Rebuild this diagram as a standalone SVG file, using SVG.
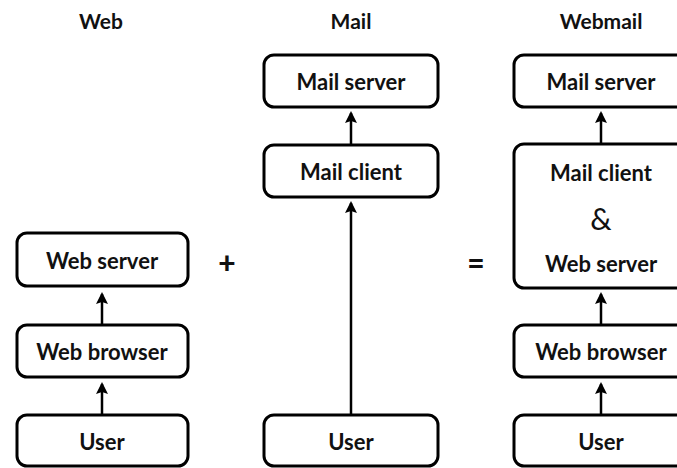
<svg xmlns="http://www.w3.org/2000/svg" width="677" height="468" viewBox="0 0 677 468">
<style>
.box{fill:#fff;stroke:#000;stroke-width:3}
.t{font-family:Lato,"Liberation Sans",sans-serif;font-weight:bold;font-size:22px;text-anchor:middle;dominant-baseline:central;fill:#111}
.h{font-family:Lato,"Liberation Sans",sans-serif;font-weight:bold;font-size:21px;text-anchor:middle;dominant-baseline:central;fill:#111}
.amp{font-family:Lato,"Liberation Sans",sans-serif;font-weight:normal;font-size:30px;text-anchor:middle;dominant-baseline:central;fill:#111}
.op{font-family:Lato,"Liberation Sans",sans-serif;font-weight:900;font-size:30px;text-anchor:middle;dominant-baseline:central;fill:#111}
.c{stroke:#000;stroke-width:2.5;fill:none;marker-end:url(#ah)}
</style>
<defs>
<marker id="ah" markerWidth="12" markerHeight="12" refX="10" refY="6" orient="auto" markerUnits="userSpaceOnUse" viewBox="0 0 12 12">
<path d="M0,0 L12,6 L0,12 L2,6 Z" fill="#000"/>
</marker>
</defs>
<text class="h" x="101" y="20">Web</text>
<text class="h" x="351" y="20">Mail</text>
<text class="h" x="601" y="20">Webmail</text>
<text class="op" x="227" y="262">+</text>
<text class="op" x="476" y="262">=</text>
<g id="connectors">
<line class="c" x1="102" y1="325" x2="102" y2="294"/>
<line class="c" x1="102" y1="415" x2="102" y2="384"/>
<line class="c" x1="351" y1="145" x2="351" y2="113"/>
<line class="c" x1="351" y1="415" x2="351" y2="203"/>
<line class="c" x1="601" y1="145" x2="601" y2="113"/>
<line class="c" x1="601" y1="325" x2="601" y2="294"/>
<line class="c" x1="601" y1="415" x2="601" y2="384"/>
</g>
<g id="web-server"><rect class="box" x="17" y="233" width="171" height="53" rx="10"/><text class="t" x="102" y="260">Web server</text></g>
<g id="web-browser"><rect class="box" x="17" y="325" width="171" height="52" rx="10"/><text class="t" x="102" y="351">Web browser</text></g>
<g id="web-user"><rect class="box" x="17" y="415" width="171" height="51" rx="10"/><text class="t" x="102" y="441">User</text></g>
<g id="mail-server"><rect class="box" x="264" y="55" width="174" height="52" rx="10"/><text class="t" x="351" y="81">Mail server</text></g>
<g id="mail-client"><rect class="box" x="264" y="145" width="174" height="52" rx="10"/><text class="t" x="351" y="171">Mail client</text></g>
<g id="mail-user"><rect class="box" x="264" y="415" width="174" height="51" rx="10"/><text class="t" x="351" y="441">User</text></g>
<g id="wm-server"><rect class="box" x="514" y="55" width="174" height="52" rx="10"/><text class="t" x="601" y="81">Mail server</text></g>
<g id="wm-combined"><rect class="box" x="514" y="144" width="174" height="144" rx="10"/><text class="t" x="601" y="172">Mail client</text><text class="amp" x="601" y="218">&amp;</text><text class="t" x="601" y="263">Web server</text></g>
<g id="wm-browser"><rect class="box" x="514" y="325" width="174" height="52" rx="10"/><text class="t" x="601" y="351">Web browser</text></g>
<g id="wm-user"><rect class="box" x="514" y="415" width="174" height="51" rx="10"/><text class="t" x="601" y="441">User</text></g>
</svg>
